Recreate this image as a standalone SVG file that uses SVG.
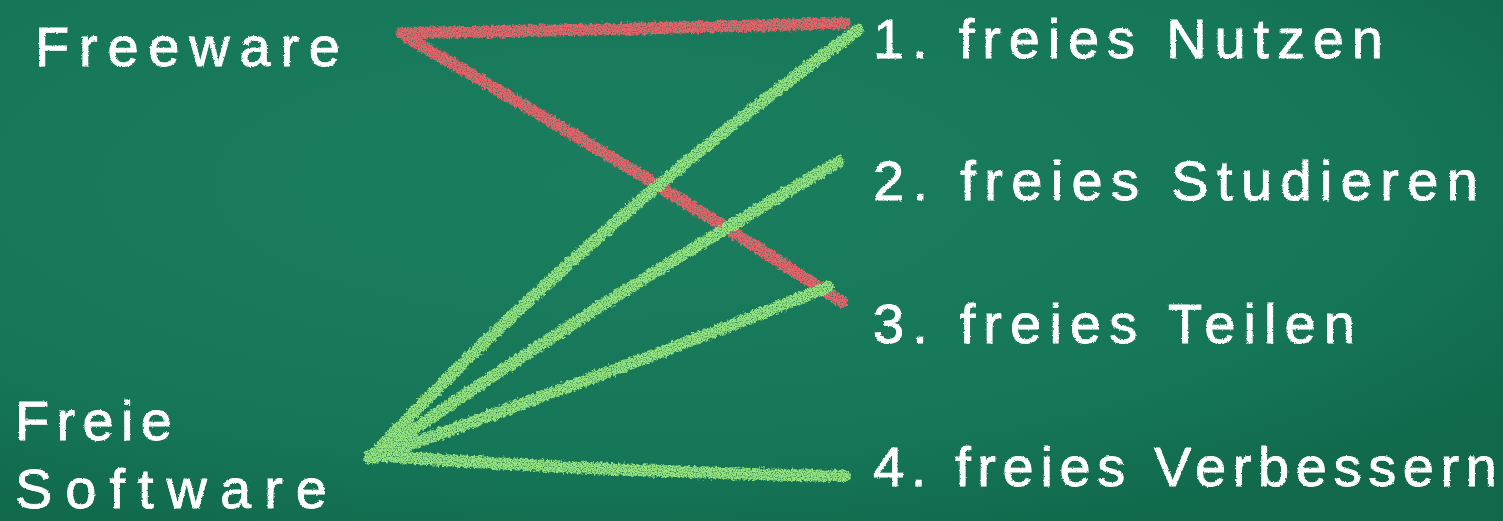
<svg xmlns="http://www.w3.org/2000/svg" width="1503" height="521" viewBox="0 0 1503 521">
  <defs>
    <radialGradient id="board" cx="40%" cy="35%" r="75%">
      <stop offset="0" stop-color="#1a7e5e"/>
      <stop offset="0.7" stop-color="#167658"/>
      <stop offset="1" stop-color="#11684b"/>
    </radialGradient>
    <filter id="chalk" filterUnits="userSpaceOnUse" x="0" y="0" width="1503" height="521">
      <feTurbulence type="fractalNoise" baseFrequency="0.35" numOctaves="2" seed="3" result="noise"/>
      <feDisplacementMap in="SourceGraphic" in2="noise" scale="6" xChannelSelector="R" yChannelSelector="G" result="disp"/>
      <feTurbulence type="fractalNoise" baseFrequency="0.8" numOctaves="1" seed="7" result="n2"/>
      <feColorMatrix in="n2" type="matrix" values="0 0 0 0 0  0 0 0 0 0  0 0 0 0 0  -3 0 0 0 2.4" result="holes"/>
      <feComposite in="disp" in2="holes" operator="in"/>
    </filter>
    <filter id="chalktext" filterUnits="userSpaceOnUse" x="0" y="0" width="1503" height="521">
      <feTurbulence type="fractalNoise" baseFrequency="0.6" numOctaves="2" seed="5" result="noise"/>
      <feDisplacementMap in="SourceGraphic" in2="noise" scale="2.5" xChannelSelector="R" yChannelSelector="G"/>
    </filter>
    <style>
      .lbl { font-family: "Liberation Sans", Arial, sans-serif; font-size: 56px; fill: #ffffff; stroke: #ffffff; stroke-width: 0.8; }
      .red { fill: none; stroke: #f0606a; stroke-width: 12; stroke-linecap: round; }
      .grn { fill: none; stroke: #98e47e; stroke-width: 12; stroke-linecap: round; }
    </style>
  </defs>

  <rect x="0" y="0" width="1503" height="521" fill="url(#board)"/>

  <g id="connectors" filter="url(#chalk)">
    <path class="red" d="M402,33 Q620,30 845,23"/>
    <path class="red" d="M406,37 Q640,170 842,302"/>
    <path class="grn" d="M370,458 Q600,215 858,30"/>
    <path class="grn" d="M372,458 Q600,300 838,162"/>
    <path class="grn" d="M375,457 Q620,370 828,287"/>
    <path class="grn" d="M370,455 Q600,472 845,476"/>
  </g>

  <g id="node-freeware" filter="url(#chalktext)">
    <text class="lbl" x="35" y="66" textLength="305" lengthAdjust="spacing">Freeware</text>
  </g>
  <g id="node-freie-software" filter="url(#chalktext)">
    <text class="lbl" x="15" y="440" textLength="157" lengthAdjust="spacing">Freie</text>
    <text class="lbl" x="15" y="508" textLength="312" lengthAdjust="spacing">Software</text>
  </g>
  <g id="node-nutzen" filter="url(#chalktext)">
    <text class="lbl" x="873" y="58" textLength="510" lengthAdjust="spacing">1. freies Nutzen</text>
  </g>
  <g id="node-studieren" filter="url(#chalktext)">
    <text class="lbl" x="873" y="200" textLength="605" lengthAdjust="spacing">2. freies Studieren</text>
  </g>
  <g id="node-teilen" filter="url(#chalktext)">
    <text class="lbl" x="873" y="343" textLength="482" lengthAdjust="spacing">3. freies Teilen</text>
  </g>
  <g id="node-verbessern" filter="url(#chalktext)">
    <text class="lbl" x="873" y="486" textLength="624" lengthAdjust="spacing">4. freies Verbessern</text>
  </g>
</svg>
